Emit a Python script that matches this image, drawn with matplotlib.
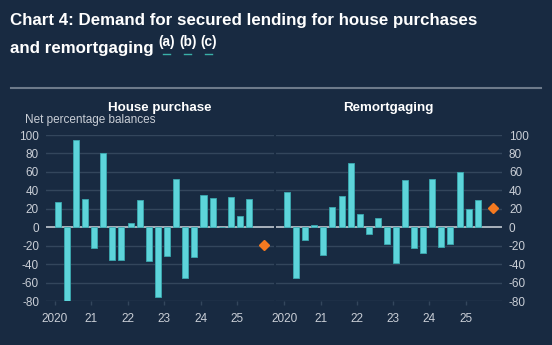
import numpy as np
import matplotlib.pyplot as plt
from matplotlib.lines import Line2D

plt.rcParams['font.family'] = ['Liberation Sans', 'DejaVu Sans']
plt.rcParams['axes.unicode_minus'] = False

# quarterly data, 2020 Q1 .. 2025 Q2
start_year = 2020
house_purchase = [27, -80, 95, 31, -22, 81, -36, -35, 5, 30, -37, -76,
                  -31, 52, -55, -32, 35, 32, 0, 33, 12, 31]
remortgaging = [38, -55, -14, 2, -30, 22, 34, 70, 14, -7, 10, -18,
                -39, 51, -23, -28, 52, -21, -18, 60, 20, 30]
# expectations for the next quarter (diamond)
expected_date = 2025.75
house_expected = -19
remort_expected = 21

year_ticks = [2020, 2021, 2022, 2023, 2024, 2025]
year_labels = ['2020', '21', '22', '23', '24', '25']
y_ticks = list(range(-80, 101, 20))

BG = '#182a41'
BAR = '#5dd4da'
BAR_EDGE = '#3aa9b0'
DIAMOND = '#f47920'
GRID = '#33465c'
ZERO = '#a9b2bd'
TXT = '#c9ced6'

W, H = 552, 345
fig = plt.figure(figsize=(W / 100, H / 100), dpi=100, facecolor=BG)


def px(x0, y0, x1, y1):
    return [x0 / W, 1 - y1 / H, (x1 - x0) / W, (y1 - y0) / H]


def panel(rect, values, exp_val, title, side):
    ax = fig.add_axes(rect)
    ax.set_facecolor(BG)
    x = start_year + np.arange(len(values)) * 0.25 + 0.08
    ax.bar(x, values, width=0.165, color=BAR, edgecolor=BAR_EDGE, linewidth=0.6, zorder=3)
    ax.plot([expected_date], [exp_val], marker='D', ms=5.5, color=DIAMOND,
            linestyle='none', zorder=4)
    ax.set_xlim(2019.76, 2026)
    ax.set_ylim(-80, 100)
    ax.set_yticks(y_ticks)
    ax.set_yticklabels([str(v) for v in y_ticks])
    for v in y_ticks:
        if v == 0:
            ax.axhline(v, color=ZERO, lw=1.4, zorder=2)
        else:
            ax.axhline(v, color=GRID, lw=1.0, zorder=1)
    ax.set_xticks(year_ticks)
    ax.set_xticklabels(year_labels)
    for s in ax.spines.values():
        s.set_visible(False)
    ax.tick_params(axis='x', colors=GRID, labelcolor=TXT, labelsize=8.5,
                   length=3, width=1, pad=6)
    ax.tick_params(axis='y', length=0, labelcolor=TXT, labelsize=8.5, pad=5)
    if side == 'right':
        ax.yaxis.tick_right()
    ax.set_title(title, color='white', fontsize=9.6, fontweight='bold', pad=17)
    return ax


ax1 = panel(px(46, 135, 273.5, 301), house_purchase, house_expected,
            'House purchase', 'left')
ax2 = panel(px(275.5, 135, 502, 301), remortgaging, remort_expected,
            'Remortgaging', 'right')

fig.text(25 / W, 1 - 120 / H, 'Net percentage balances', color=TXT,
         fontsize=8.5, va='center', ha='left')

# title
fig.text(10 / W, 1 - 21 / H, 'Chart 4: Demand for secured lending for house purchases',
         color='white', fontsize=12.2, fontweight='bold', va='center', ha='left')
t2 = fig.text(10 / W, 1 - 48 / H, 'and remortgaging', color='white',
              fontsize=12.2, fontweight='bold', va='center', ha='left')

fig.canvas.draw()
r = fig.canvas.get_renderer()
xpos = t2.get_window_extent(r).x1 + 5
for note in ['(a)', '(b)', '(c)']:
    t = fig.text(xpos / W, 1 - 42 / H, note, color='white', fontsize=9.8,
                 fontweight='bold', va='center', ha='left')
    e = t.get_window_extent(r)
    cx = (e.x0 + e.x1) / 2
    fig.add_artist(Line2D([(cx - 3.5) / W, (cx + 3.5) / W], [1 - 54 / H, 1 - 54 / H],
                          color='#3ab0a8', lw=1.0))
    xpos = e.x1 + 4

# separator line
fig.add_artist(Line2D([11 / W, 541 / W], [1 - 88 / H, 1 - 88 / H], color='#6d7a8a', lw=1.5))

fig.savefig('out.png', dpi=100, facecolor=BG)
